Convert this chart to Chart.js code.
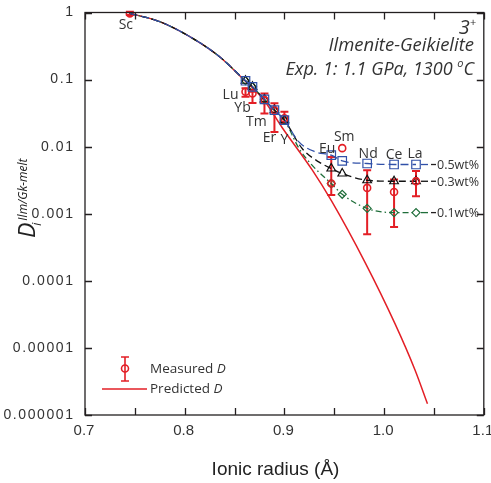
<!DOCTYPE html>
<html><head><meta charset="utf-8">
<script src="https://cdn.jsdelivr.net/npm/chart.js@4.4.1/dist/chart.umd.min.js"></script>
<style>html,body{margin:0;padding:0;background:#fff}#wrap{width:491px;height:483px;position:relative}</style>
</head><body><div id="wrap"><canvas id="c" width="491" height="483"></canvas></div>
<script>
// ---------- data ----------
const elements   = ['Sc','Lu','Yb','Tm','Er','Y','Eu','Sm','Nd','Ce','La'];
const radii      = [0.745,0.861,0.868,0.880,0.890,0.900,0.947,0.958,0.983,1.010,1.032];
const measuredD  = [0.97,0.0658,0.0622,0.0494,0.035,0.0264,0.00282,0.0095,0.00243,0.00211,0.00306];
const measuredHi = [1.03,0.074,0.0656,0.0622,0.0443,0.0331,0.0070,null,0.00446,0.00325,0.00434];
const measuredLo = [0.92,0.0553,0.0449,0.0312,0.0166,0.0222,0.0019,null,0.000494,0.000636,0.00182];

const predR = [0.745,0.775,0.808,0.835,0.858,0.879,0.8975,0.9277,0.9474,0.981,1.0109,1.0309,1.0435];
const predD = [0.97,0.73,0.412,0.219,0.104,0.0506,0.0195,0.00454,0.00154,0.000187,0.0000230,0.00000473,0.00000147];

const modelUpperR = [0.745,0.775,0.808,0.835];
const modelUpperD = [0.97,0.73,0.412,0.219];
const model05R = [0.861,0.868,0.880,0.890,0.900,0.9145,0.9311,0.947,0.958,0.983,1.010,1.032];
const model05D = [0.096,0.078,0.0506,0.035,0.0249,0.0118,0.00836,0.00747,0.00614,0.00561,0.00542,0.00542];
const model03R = [0.861,0.868,0.880,0.890,0.900,0.9178,0.9344,0.947,0.958,0.983,1.010,1.032];
const model03D = [0.096,0.078,0.0506,0.035,0.0249,0.0094,0.00593,0.00473,0.00398,0.00316,0.00305,0.00305];
const model01R = [0.861,0.868,0.880,0.890,0.900,0.9145,0.9277,0.947,0.958,0.983,1.010,1.032];
const model01D = [0.096,0.078,0.0506,0.035,0.0249,0.0095,0.0053,0.00282,0.00195,0.0012,0.00104,0.00104];
const seriesNames = ['0.5wt%','0.3wt%','0.1wt%'];

const xTicks = [0.7,0.8,0.9,1.0,1.1];
const xTickLabels = ['0.7','0.8','0.9','1.0','1.1'];
const xMinorTicks = [0.75,0.85,0.95,1.05];
const yTicks = [1,0.1,0.01,0.001,0.0001,0.00001,0.000001];
const yTickLabels = ['1','0.1','0.01','0.001','0.0001','0.00001','0.000001'];

// ---------- styling ----------
const RED='#e31f26', BLUE='#3050a8', BLACK='#111111', GREEN='#1f6e3a', TXT='#231f20';
const labelOffsets = [[-4,12],[-15,3],[-10,15],[-8,22],[-5,28],[0,22],[-4,-35],[2,-11],[1,-34],[0,-37],[-1,-27]];

function pts(rs, ds){ return rs.map((r,i)=>({x:r,y:ds[i]})); }
const elemSet = new Set(radii);
const markerRadius = (r)=> (ctx)=> (ctx.raw && elemSet.has(ctx.raw.x) && ctx.raw.x!==0.745) ? r : 0;

const datasets = [
  {label:'Predicted', data:pts(predR,predD), showLine:true, borderColor:RED, borderWidth:1.5, pointRadius:0, cubicInterpolationMode:'monotone', order:5},
  {label:'0.1', data:pts(modelUpperR.concat(model01R), modelUpperD.concat(model01D)), showLine:true, borderColor:GREEN, borderWidth:1.3, borderDash:[6,3,1.5,3], cubicInterpolationMode:'monotone',
    pointStyle:'rectRot', pointRadius:markerRadius(4), pointBorderColor:GREEN, pointBackgroundColor:'rgba(0,0,0,0)', pointBorderWidth:1.2, order:4},
  {label:'0.3', data:pts(modelUpperR.concat(model03R), modelUpperD.concat(model03D)), showLine:true, borderColor:BLACK, borderWidth:1.3, borderDash:[7,4], cubicInterpolationMode:'monotone',
    pointStyle:'triangle', pointRadius:markerRadius(5), pointBorderColor:BLACK, pointBackgroundColor:'rgba(0,0,0,0)', pointBorderWidth:1.2, order:3},
  {label:'Measured', data:pts(radii,measuredD), showLine:false, pointStyle:'circle', pointRadius:3.5, pointBorderColor:RED, pointBackgroundColor:'rgba(0,0,0,0)', pointBorderWidth:1.6, order:2},
  {label:'0.5', data:pts(modelUpperR.concat(model05R), modelUpperD.concat(model05D)), showLine:true, borderColor:BLUE, borderWidth:1.3, borderDash:[8,4], cubicInterpolationMode:'monotone',
    pointStyle:'rect', pointRadius:markerRadius(6), pointBorderColor:BLUE, pointBackgroundColor:'rgba(0,0,0,0)', pointBorderWidth:1.2, order:1}
];

function textParts(ctx, parts, x, y, align){
  let total = 0;
  parts.forEach(p=>{ctx.font=p[1]; total+=ctx.measureText(p[0]).width;});
  let cx = align==='right' ? x-total : (align==='center' ? x-total/2 : x);
  parts.forEach(p=>{ctx.font=p[1]; ctx.textAlign='left'; ctx.fillText(p[0], cx, y+(p[2]||0)); cx+=ctx.measureText(p[0]).width;});
}
function spacedText(ctx, txt, x, y, align, sp){
  let w = 0; const ws = [...txt].map(ch=>{const m=ctx.measureText(ch).width; w+=m; return m;});
  w += sp*(txt.length-1);
  let cx = align==='right' ? x-w : (align==='center' ? x-w/2 : x);
  ctx.textAlign='left';
  [...txt].forEach((ch,i)=>{ ctx.fillText(ch, cx, y); cx += ws[i]+sp; });
}

const decor = {
  id:'decor',
  beforeDatasetsDraw(chart){
    const {ctx, scales:{x,y}} = chart;
    ctx.save();
    ctx.strokeStyle = RED; ctx.lineWidth = 2;
    radii.forEach((r,i)=>{
      if (measuredHi[i]==null) return;
      const px = x.getPixelForValue(r), y1 = y.getPixelForValue(measuredHi[i]), y2 = y.getPixelForValue(measuredLo[i]);
      ctx.beginPath(); ctx.moveTo(px,y1); ctx.lineTo(px,y2);
      ctx.moveTo(px-4,y1); ctx.lineTo(px+4,y1); ctx.moveTo(px-4,y2); ctx.lineTo(px+4,y2); ctx.stroke();
    });
    ctx.restore();
  },
  afterDraw(chart){
    const {ctx, chartArea:a, scales:{x,y}} = chart;
    ctx.save();
    // frame
    ctx.strokeStyle = TXT; ctx.lineWidth = 1.3;
    ctx.strokeRect(a.left, a.top, a.right-a.left, a.bottom-a.top);
    // inward ticks
    ctx.beginPath();
    xTicks.concat(xMinorTicks).forEach(v=>{
      const px = Math.round(x.getPixelForValue(v))+0.5;
      ctx.moveTo(px,a.bottom); ctx.lineTo(px,a.bottom-7);
      ctx.moveTo(px,a.top); ctx.lineTo(px,a.top+7);
    });
    yTicks.forEach(v=>{
      const py = Math.round(y.getPixelForValue(v))+0.5;
      ctx.moveTo(a.left,py); ctx.lineTo(a.left+7,py);
      ctx.moveTo(a.right,py); ctx.lineTo(a.right-7,py);
    });
    ctx.stroke();

    // tick labels
    ctx.fillStyle = '#333'; ctx.textBaseline='middle';
    ctx.font = '15px "Liberation Sans"';
    xTicks.forEach((v,i)=> spacedText(ctx, xTickLabels[i], x.getPixelForValue(v)-1, a.bottom+16, 'center', 0));
    ctx.font = '14px "Liberation Sans"';
    yTicks.forEach((v,i)=> spacedText(ctx, yTickLabels[i], a.left-12, y.getPixelForValue(v), 'right', 1.6));

    // element labels
    ctx.fillStyle = '#333'; ctx.textAlign='center'; ctx.textBaseline='middle';
    ctx.font = '14px "Open Sans"';
    elements.forEach((e,i)=>{
      const px = x.getPixelForValue(radii[i]), py = y.getPixelForValue(measuredD[i]);
      ctx.fillText(e, px+labelOffsets[i][0], py+labelOffsets[i][1]);
    });

    // series labels
    const lastR = [model05R, model03R, model01R].map(a=>a[a.length-1]);
    const lastD = [model05D[model05D.length-1], model03D[model03D.length-1], model01D[model01D.length-1]];
    const cols = [BLUE, BLACK, GREEN];
    ctx.font = '12.5px "Open Sans"'; ctx.textAlign='left';
    lastR.forEach((r,i)=>{
      const px = x.getPixelForValue(r), py = y.getPixelForValue(lastD[i]);
      ctx.strokeStyle = cols[i]; ctx.lineWidth=1.3;
      ctx.beginPath(); ctx.moveTo(px+5,py); ctx.lineTo(px+12,py); ctx.stroke();
      ctx.strokeStyle = TXT; ctx.beginPath(); ctx.moveTo(px+15,py); ctx.lineTo(px+20,py); ctx.stroke();
      ctx.fillStyle = '#333'; ctx.fillText(seriesNames[i], px+21, py+1);
    });

    // title block
    ctx.fillStyle = '#333'; ctx.textBaseline='alphabetic';
    textParts(ctx, [['3','italic 20px "Open Sans"',0],['+','italic 11px "Open Sans"',-8]], 476, 34, 'right');
    textParts(ctx, [['Ilmenite-Geikielite','italic 18.5px "Open Sans"',0]], 474, 51, 'right');
    textParts(ctx, [['Exp. 1: 1.1 GPa, 1300 ','italic 18px "Open Sans"',0],['o','italic 11px "Open Sans"',-8],['C','italic 18px "Open Sans"',0]], 474, 75, 'right');

    // legend
    ctx.strokeStyle = RED; ctx.lineWidth = 1.6;
    ctx.beginPath(); ctx.moveTo(125,357); ctx.lineTo(125,381); ctx.moveTo(121,357); ctx.lineTo(129,357); ctx.moveTo(121,381); ctx.lineTo(129,381); ctx.stroke();
    ctx.beginPath(); ctx.arc(125,368.5,3.5,0,Math.PI*2); ctx.fillStyle='#fff'; ctx.fill(); ctx.stroke();
    ctx.beginPath(); ctx.moveTo(125,365); ctx.lineTo(125,372); ctx.stroke();
    ctx.lineWidth = 1.5; ctx.beginPath(); ctx.moveTo(102,389); ctx.lineTo(147,389); ctx.stroke();
    ctx.fillStyle = '#333'; ctx.textBaseline='middle';
    textParts(ctx, [['Measured ','13.5px "Open Sans"',0],['D','italic 13.5px "Open Sans"',0]], 150, 369, 'left');
    textParts(ctx, [['Predicted ','13.5px "Open Sans"',0],['D','italic 13.5px "Open Sans"',0]], 150, 389, 'left');

    // axis titles
    ctx.font = '19px "Liberation Sans"'; ctx.textAlign='center'; ctx.fillStyle='#222';
    ctx.fillText('Ionic radius (Å)', 275.5, 470);
    ctx.save();
    ctx.translate(35, 238); ctx.rotate(-Math.PI/2);
    ctx.textBaseline='alphabetic'; ctx.textAlign='left';
    ctx.font = 'italic 23px "Open Sans"'; ctx.fillText('D', 0, 0);
    const dw = ctx.measureText('D').width;
    ctx.font = 'italic 12px "Open Sans"'; ctx.fillText('i', dw-3, 6);
    ctx.fillText('Ilm/Gk-melt', dw+2, -8);
    ctx.restore();
    ctx.restore();
  }
};

new Chart(document.getElementById('c'), {
  type:'scatter',
  data:{datasets},
  options:{
    responsive:false, animation:false, devicePixelRatio:1,
    layout:{padding:{top:12.5,right:5,left:0,bottom:0}},
    plugins:{legend:{display:false}, tooltip:{enabled:false}},
    scales:{
      x:{type:'linear', min:0.7, max:1.1,
        afterFit:(s)=>{ s.height = 68; s.paddingLeft=0; s.paddingRight=0; },
        grid:{display:false, drawTicks:false}, border:{display:false},
        ticks:{display:false}},
      y:{type:'logarithmic', min:0.000001, max:1,
        afterFit:(s)=>{ s.width = 85; s.paddingTop=0; s.paddingBottom=0; },
        grid:{display:false, drawTicks:false}, border:{display:false},
        ticks:{display:false}}
    }
  },
  plugins:[decor]
});
</script></body></html>
